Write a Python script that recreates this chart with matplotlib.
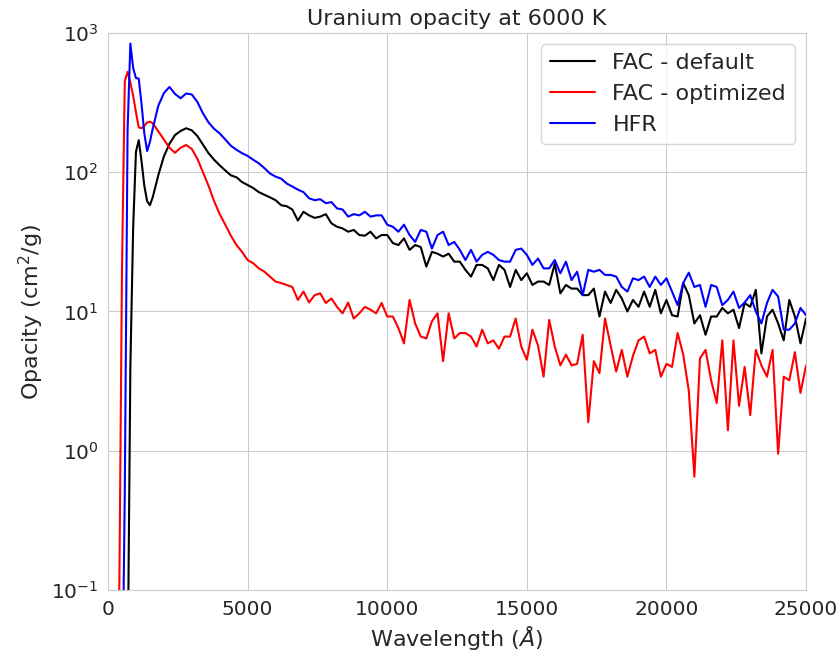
import numpy as np
import matplotlib
matplotlib.use('Agg')
import matplotlib.pyplot as plt
import seaborn as sns

# wavelength grid (Angstrom): finer steps near the UV peaks, then 200 A steps
wave_early = [300, 400, 500, 600, 700, 800, 900, 1000, 1100, 1200,
              1300, 1400, 1500, 1600, 1800, 2000, 2200, 2400, 2600, 2800,
              3000, 3200, 3400, 3600, 3800, 4000, 4200, 4400, 4600, 4800]
wave_late = np.arange(5000, 25001, 200)
wavelength = np.concatenate([wave_early, wave_late])

# opacity (cm^2/g)
fac_default = [
    0.01, 0.01, 0.01, 0.01, 0.02, 4, 40, 140, 170, 120,
    80, 62, 58, 66, 95, 130, 160, 185, 198, 207,
    200, 182, 158, 137, 123, 112, 103, 95, 92, 85,
    81, 77, 72, 69, 66, 63, 58, 57, 54, 45,
    52, 49, 47, 48, 50, 43, 40.6, 39.5, 37.4, 38.5,
    35.4, 35, 37.4, 33.5, 35.4, 35.4, 31, 30, 33.5, 27.7,
    30, 29, 21, 26.8, 26, 24.8, 26, 22.8, 22.8, 19.9,
    17.8, 21.6, 21.6, 20.4, 16.8, 21.6, 19.9, 15, 19.9, 16.8,
    18.8, 15.5, 16.4, 16.4, 15.5, 22, 13.5, 15.5, 14.6, 14.6,
    13.1, 13.1, 14.6, 9.2, 13.9, 11.5, 14.3, 12.4, 10, 12.1,
    10.8, 13.9, 10.8, 14.3, 9.7, 12.1, 9.4, 9.2, 16, 13.1,
    8.2, 9.4, 6.8, 9.2, 9.2, 10.6, 9.7, 10.3, 7.6, 11.5,
    10.8, 14.3, 5.0, 9.2, 10.3, 8.2, 6.2, 12.1, 9.2, 5.9,
    8.9]

fac_optimized = [
    0.01, 0.08, 20, 450, 527, 440, 355, 270, 210, 207,
    215, 228, 231, 225, 197, 172, 150, 138, 150, 157,
    147, 125, 100, 80, 62, 50, 42, 35, 30, 26.8,
    23.4, 22.2, 20.4, 19.3, 17.8, 16.4, 16, 15.5, 15, 12.1,
    13.9, 11.6, 13.1, 13.5, 11.5, 12.4, 10.8, 9.7, 11.6, 8.9,
    9.7, 10.8, 10.3, 9.7, 11.5, 9.2, 9.2, 7.6, 5.9, 12.1,
    8.2, 6.6, 6.4, 8.5, 9.7, 4.4, 9.7, 6.4, 7.0, 7.0,
    6.6, 5.6, 7.4, 5.9, 6.2, 5.4, 6.6, 6.6, 8.9, 5.6,
    4.5, 7.4, 5.7, 3.4, 8.7, 5.6, 4.1, 4.9, 4.1, 4.2,
    6.8, 1.6, 4.4, 3.6, 8.9, 5.7, 3.7, 5.3, 3.4, 4.8,
    6.2, 6.6, 5.0, 5.3, 3.4, 4.2, 4.0, 7.0, 4.9, 2.7,
    0.65, 4.6, 5.3, 3.2, 2.2, 6.2, 1.4, 6.2, 2.1, 4.0,
    1.8, 5.3, 4.1, 3.4, 5.3, 0.95, 3.4, 3.2, 5.1, 2.6,
    4.1]

hfr = [
    0.01, 0.01, 0.01, 0.5, 200, 840, 560, 475, 470, 310,
    190, 142, 165, 205, 300, 370, 410, 365, 340, 368,
    362, 320, 265, 228, 205, 190, 172, 155, 145, 137,
    131, 123, 116, 107, 98, 93, 90, 83, 79, 75,
    72, 65, 63, 64, 60, 61, 55, 54, 48, 50,
    49, 52, 48, 49, 49, 42, 40.6, 37.4, 42, 35.4,
    31.6, 38.5, 37.4, 28.3, 35.4, 37.4, 30, 31.6, 27.7, 23.4,
    27.7, 22.8, 25.5, 26.8, 25.5, 23.4, 22.8, 22.8, 27.7, 28.3,
    25.5, 21.6, 24, 20.4, 20.4, 23.4, 18.8, 22.8, 16.8, 19.3,
    13.1, 19.9, 19.3, 19.9, 18.3, 18.3, 17.8, 15, 13.9, 17.3,
    16.8, 17.8, 15, 17.8, 15.5, 17.3, 13.9, 11.1, 16, 19,
    15, 15.5, 10.8, 15.5, 15, 11.1, 12.1, 13.9, 10.6, 11.6,
    13.1, 10, 8.2, 11.5, 14.3, 12.8, 7.4, 7.4, 8.2, 10.6,
    9.4]

sns.set_style('whitegrid')

fig = plt.figure(figsize=(8.4, 6.54), dpi=100)
ax = fig.add_axes([0.1286, 0.098, 0.831, 0.8515])

ax.plot(wavelength, fac_default, color='black', linewidth=1.5, label='FAC - default')
ax.plot(wavelength, fac_optimized, color='red', linewidth=1.5, label='FAC - optimized')
ax.plot(wavelength, hfr, color='blue', linewidth=1.5, label='HFR')

ax.set_yscale('log')
ax.set_ylim(0.1, 1000)
ax.set_xlim(0, 25000)
ax.tick_params(labelsize=14.5)

ax.set_xlabel(r'Wavelength ($Å$)', fontsize=16)
ax.set_ylabel(r'Opacity (cm$^2$/g)', fontsize=16)
ax.set_title('Uranium opacity at 6000 K', fontsize=16)
ax.legend(loc='upper right', fontsize=16)

fig.savefig('out.png', dpi=100)
